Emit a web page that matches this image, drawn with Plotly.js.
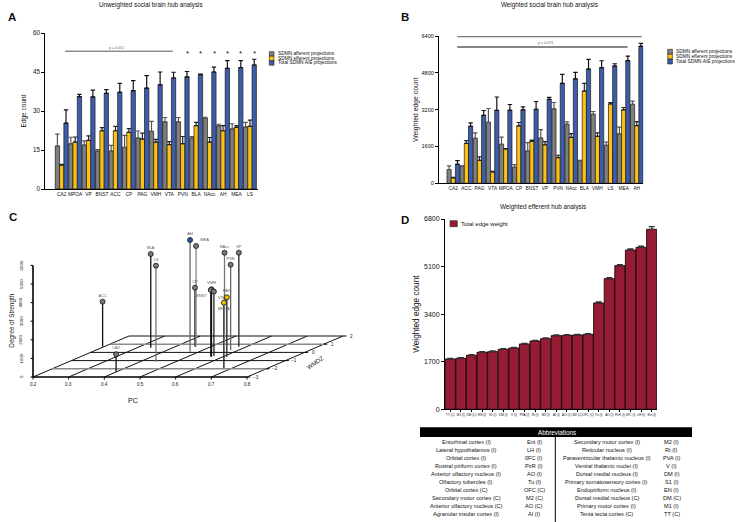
<!DOCTYPE html>
<html><head><meta charset="utf-8">
<script src="https://cdn.plot.ly/plotly-3.0.1.min.js"></script>
<style>html,body{margin:0;padding:0;background:#fff}#chart{width:740px;height:522px}</style>
</head><body><div id="chart"></div>
<script>
// ---------- DATA ----------
const seriesNames = ['SDMN afferent projections', 'SDMN efferent projections', 'Total SDMN A/E projections'];

// Panel A: unweighted
const unweightedRegions = ['CA2','MPOA','VP','BNST','ACC','CP','PAG','VMH','VTA','PVN','BLA','NAcc','AH','MEA','LS'];
const unweightedAfferent    = [16.5,17.4,16.9,14.6,14.6,16.0,19.6,22.2,25.8,25.8,19.6,27.2,24.3,23.1,23.8];
const unweightedAfferentTop = [21.1,19.9,18.5,15.2,16.8,20.6,22.3,26.0,27.5,27.5,20.2,27.6,24.9,25.1,25.6];
const unweightedEfferent    = [9.2,18.0,18.7,22.4,22.4,21.8,19.2,18.0,17.1,17.4,24.4,18.0,22.4,23.7,24.1];
const unweightedEfferentTop = [9.5,20.0,20.4,23.6,24.1,23.2,21.5,19.1,18.2,20.2,25.6,19.8,24.4,24.4,26.5];
const unweightedTotal       = [25.3,35.5,35.4,36.8,37.2,37.8,38.8,40.1,42.7,43.1,44.0,45.0,46.4,46.7,47.7];
const unweightedTotalTop    = [30.4,36.4,38.0,38.2,40.6,41.7,43.6,45.0,44.9,45.2,44.2,46.9,49.4,49.4,49.9];

// Panel B: weighted
const weightedRegions = ['CA2','ACC','PAG','VTA','MPOA','CP','BNST','VP','PVN','NAcc','BLA','VMH','LS','MEA','AH'];
const weightedAfferent    = [600,750,1955,2650,1696,695,1398,1962,3232,2565,985,3000,1652,2145,3428];
const weightedAfferentTop = [755,760,2191,3250,2002,812,1770,2336,3511,2670,1000,3120,1785,2438,3569];
const weightedEfferent    = [240,1732,1000,500,1493,2493,1819,1674,1116,1993,4008,2043,3450,3189,2507];
const weightedEfferentTop = [262,1857,1146,515,1510,2641,1872,1814,1219,2162,4339,2191,3511,3294,2684];
const weightedTotal       = [826,2478,2950,3167,3175,3189,3218,3645,4341,4537,4957,5022,5095,5334,5950];
const weightedTotalTop    = [987,2626,3163,3750,3424,3323,3555,3729,4730,4817,5383,5325,5195,5528,6080];

// Panel C: hub space
const hubRegions  = ['ACC','CA2','BLA','LS','AH','MEA','CP','VMH','BNST','VTA','NAcc','VP','PVN','PAG','MPOA'];
const hubPC       = [0.196,0.398,0.338,0.444,0.474,0.458,0.455,0.567,0.565,0.570,0.527,0.578,0.577,0.610,0.676];
const hubWMDZ     = [0.70,-2.35,0.57,-1.13,0.09,0.70,0.70,-0.52,-0.52,-0.45,0.90,0.70,0.29,-0.52,-1.90];
const hubStrength = [2420,935,5037,5161,6005,5414,3172,3624,3580,3470,4962,5054,4586,3194,3511];
const pcTicks   = [0.2,0.3,0.4,0.5,0.6,0.7,0.8];
const wmdzTicks = [-3,-2,-1,0,1,2];
const strengthTicks = [0,1000,2000,3000,4000,5000,6000];

// Panel D: weighted efferent hubs
const efferentLabels = ['TT (C)','M1 (I)','DM (C)','EN (I)','S1 (I)','DM (I)','V (I)','PVA (I)','Rt (I)','M2 (I)','AI (I)','AO (C)','M2 (C)','OFC (C)','Tu (I)','AO (I)','PirR (I)','0FC (I)','LH (I)','Ent (I)'];
const efferentWeights = [1798,1822,1929,2036,2060,2144,2191,2334,2441,2525,2632,2644,2656,2680,3799,4668,5133,5692,5788,6431];
const efferentErr     = [25,25,25,25,25,25,25,25,25,25,25,25,25,25,40,40,40,40,40,95];

// Abbreviations table
const abbrLeftNames  = ['Entorhinal cortex (I)','Lateral hypothalamus (I)','Orbital cortex (I)','Rostral piriform cortex (I)','Anterior olfactory nucleus (I)','Olfactory tubercles (I)','Orbital cortex (C)','Secondary motor cortex (C)','Anterior olfactory nucleus (C)','Agranular insular cortex (I)'];
const abbrLeftCodes  = ['Ent (I)','LH (I)','0FC (I)','PirR (I)','AO (I)','Tu (I)','OFC (C)','M2 (C)','AO (C)','AI (I)'];
const abbrRightNames = ['Secondary motor cortex (I)','Reticular nucleus (I)','Paraventricular thalamic nucleus (I)','Ventral thalamic nuclei (I)','Dorsal medial nucleus (I)','Primary somatosensory cortex (I)','Endopiriform nucleus (I)','Dorsal medial nucleus (C)','Primary motor cortex (I)','Tenia tecta cortex (C)'];
const abbrRightCodes = ['M2 (I)','Rt (I)','PVA (I)','V (I)','DM (I)','S1 (I)','EN (I)','DM (C)','M1 (I)','TT (C)'];

// ---------- STYLE ----------
const FONT = 'Liberation Sans, Arial, sans-serif';
const seriesColors = ['#7f7f7f','#fcc114','#3d5ca9'];
const errColors = ['#555','#222','#111'];
const stemShade = {ACC:'#111',CA2:'#111',BLA:'#111',LS:'#777',AH:'#666',MEA:'#888',CP:'#111',VMH:'#111',BNST:'#111',VTA:'#222',NAcc:'#777',VP:'#222',PVN:'#666',PAG:'#222',MPOA:'#111'};
const pointFill = {AH:'#3355a8',PAG:'#f5c000',MPOA:'#f5c000'};
const labelPos = {BNST:'bottom left',VTA:'bottom right',MPOA:'bottom center',MEA:'top right'};

const W = 740, H = 522;
const px = x => x / W;
const py = y => 1 - y / H;

const traces = [];
const shapes = [];
const annotations = [];

function ann(x, y, text, size, extra) {
  annotations.push(Object.assign({xref:'paper', yref:'paper', x:px(x), y:py(y), text:text, showarrow:false,
    font:{family:FONT, size:size, color:'#111'}, xanchor:'center', yanchor:'middle'}, extra || {}));
}

// ---------- Panel A ----------
const aVals = [unweightedAfferent, unweightedEfferent, unweightedTotal];
const aTops = [unweightedAfferentTop, unweightedEfferentTop, unweightedTotalTop];
aVals.forEach((vals, k) => {
  traces.push({type:'bar', x:unweightedRegions, y:vals, name:seriesNames[k], xaxis:'x', yaxis:'y', showlegend:false,
    marker:{color:seriesColors[k], line:{color:'#1a1a1a', width:0.7}},
    error_y:{type:'data', symmetric:false, array:aTops[k].map((t,i)=>Math.max(0,t-vals[i])), arrayminus:vals.map(()=>0),
      color:errColors[k], thickness:1.2, width:2.2}});
});
// ---------- Panel B ----------
const bVals = [weightedAfferent, weightedEfferent, weightedTotal];
const bTops = [weightedAfferentTop, weightedEfferentTop, weightedTotalTop];
bVals.forEach((vals, k) => {
  traces.push({type:'bar', x:weightedRegions, y:vals, name:seriesNames[k], xaxis:'x2', yaxis:'y2', showlegend:false,
    marker:{color:seriesColors[k], line:{color:'#1a1a1a', width:0.7}},
    error_y:{type:'data', symmetric:false, array:bTops[k].map((t,i)=>Math.max(0,t-vals[i])), arrayminus:vals.map(()=>0),
      color:errColors[k], thickness:1.2, width:2.2}});
});
// ---------- Panel D ----------
traces.push({type:'bar', x:efferentLabels, y:efferentWeights, name:'Total edge weight', xaxis:'x3', yaxis:'y3', showlegend:false,
  marker:{color:'#951c34', line:{color:'#1a0508', width:0.9}},
  error_y:{type:'data', symmetric:false, array:efferentErr, arrayminus:efferentErr.map(()=>0), color:'#333', thickness:1.2, width:3}});

// ---------- Panel C (oblique projection of 3D data) ----------
function proj(pc, w, s) {
  const u = (pc - 0.2) / 0.6, v = (w + 3) / 5;
  return [33 + u * 214 + v * 96, 377 - v * 41 - s * 0.0186];
}
function addLines(segs, color, width) {
  const xs = [], ys = [];
  segs.forEach(s => { xs.push(s[0][0], s[1][0], null); ys.push(s[0][1], s[1][1], null); });
  traces.push({type:'scatter', mode:'lines', x:xs, y:ys, xaxis:'x4', yaxis:'y4', showlegend:false, hoverinfo:'skip',
    line:{color:color, width:width}, cliponaxis:false});
}
const wMin = wmdzTicks[0], wMax = wmdzTicks[wmdzTicks.length-1];
const pMin = pcTicks[0], pMax = pcTicks[pcTicks.length-1];
addLines(pcTicks.map(p => [proj(p, wMin, 0), proj(p, wMax, 0)]), '#111', 1);
addLines(wmdzTicks.filter(w => w === 2 || w === 0 || w === -1).map(w => [proj(pMin, w, 0), proj(pMax, w, 0)]), '#111', 1);
addLines(wmdzTicks.filter(w => w === 1 || w === -2).map(w => [proj(pMin, w, 0), proj(pMax, w, 0)]), '#8a8a8a', 1.6);
addLines([[proj(pMin, wMin, 0), proj(pMax, wMin, 0)]], '#000', 1.6);
addLines(pcTicks.map(p => { const a = proj(p, wMin, 0); return [a, [a[0], a[1] + 2.5]]; }), '#000', 1);
addLines(wmdzTicks.map(w => { const a = proj(pMax, w, 0); return [a, [a[0] + 3.5, a[1]]]; }), '#000', 1);
const zb = proj(pMin, wMin, 0), zt = proj(pMin, wMin, strengthTicks[strengthTicks.length-1]);
addLines([[zb, zt]], '#000', 1.6);
addLines(strengthTicks.map(s => { const a = proj(pMin, wMin, s); return [a, [a[0] - 2.5, a[1]]]; }), '#000', 1);
const shades = [...new Set(hubRegions.map(r => stemShade[r]))];
shades.forEach(c => {
  const segs = [];
  hubRegions.forEach((r, i) => { if (stemShade[r] === c) segs.push([proj(hubPC[i], hubWMDZ[i], 0), proj(hubPC[i], hubWMDZ[i], hubStrength[i])]); });
  addLines(segs, c, 1.3);
});
const pts = hubRegions.map((r, i) => proj(hubPC[i], hubWMDZ[i], hubStrength[i]));
traces.push({type:'scatter', mode:'markers+text', x:pts.map(p=>p[0]), y:pts.map(p=>p[1]), text:hubRegions,
  textposition:hubRegions.map(r => labelPos[r] || 'top center'), textfont:{family:FONT, size:4, color:'#555'},
  xaxis:'x4', yaxis:'y4', showlegend:false, cliponaxis:false,
  marker:{size:5, color:hubRegions.map(r => pointFill[r] || '#7a7a7a'), line:{color:'#111', width:0.8}}});
pcTicks.forEach(p => { const a = proj(p, wMin, 0); ann(a[0], a[1] + 7.5, p.toFixed(1), 4.6); });
wmdzTicks.forEach(w => { const a = proj(pMax, w, 0); ann(a[0] + 8.5, a[1], String(w).replace('-', '\u2212'), 4.6); });
strengthTicks.forEach(s => { const a = proj(pMin, wMin, s); ann(a[0] - 12, a[1], String(s), 4.4, {textangle:-90}); });
ann(11.7, 321, 'Degree of Strength', 6.4, {textangle:-90});
ann(133, 400, 'PC', 7);
ann(315, 363, 'WMDZ', 6, {textangle:-35});

// ---------- annotations for A ----------
shapes.push({type:'line', xref:'x', yref:'y', x0:0.25, x1:8.27, y0:53, y1:53, line:{color:'#555', width:1}});
annotations.push({xref:'x', yref:'y', x:4.04, y:53, yshift:3, text:'p = 0.051', showarrow:false, font:{family:FONT, size:3.6, color:'#666'}});
for (let i = 9; i < unweightedRegions.length; i++) {
  annotations.push({xref:'x', yref:'y', x:i + 0.33, y:52.2, text:'*', showarrow:false, font:{family:FONT, size:8, color:'#111'}});
}
// ---------- annotations for B ----------
shapes.push({type:'line', xref:'x2', yref:'y2', x0:0.3, x1:14.38, y0:6370, y1:6370, line:{color:'#777', width:1.2}});
shapes.push({type:'line', xref:'x2', yref:'y2', x0:0.3, x1:13.3, y0:5921, y1:5921, line:{color:'#111', width:1.2}});
annotations.push({xref:'x2', yref:'y2', x:7.0, y:6090, text:'p = 0.073', showarrow:false, font:{family:FONT, size:3.6, color:'#666'}});
annotations.push({xref:'x2', yref:'y2', x:7.5, y:6480, text:'*', showarrow:false, font:{family:FONT, size:8, color:'#111'}});

// ---------- manual legends ----------
function legend(x, yTop, rowH, names, colors, size, swW) {
  names.forEach((n, k) => {
    const y0 = yTop + k * rowH;
    shapes.push({type:'rect', xref:'paper', yref:'paper', x0:px(x), x1:px(x + swW), y0:py(y0 + rowH), y1:py(y0),
      fillcolor:colors[k], line:{color:'#222', width:0.6}});
    ann(x + swW + 1.5, y0 + rowH / 2, n, size, {xanchor:'left'});
  });
}
legend(269.3, 51.7, 4.5, seriesNames, seriesColors, 4.8, 4.7);
legend(667.7, 49.3, 4.9, seriesNames, seriesColors, 4.8, 4.7);
legend(450, 220.7, 6, ['Total edge weight'], ['#951c34'], 6, 7.3);

// ---------- titles and letters ----------
ann(150.5, 5, 'Unweighted social brain hub analysis', 6.3);
ann(549, 5, 'Weighted social brain hub analysis', 6.3);
ann(543, 207.3, 'Weighted efferent hub analysis', 6.3);
[['A',12.3,17.3],['B',405,16.7],['C',13.3,217.3],['D',405,220]].forEach(l =>
  ann(l[1], l[2], '<b>' + l[0] + '</b>', 11.5));

// ---------- abbreviation table ----------
shapes.push({type:'rect', xref:'paper', yref:'paper', x0:px(420), x1:px(692), y0:py(437), y1:py(427.3), fillcolor:'#000', line:{width:0}});
shapes.push({type:'line', xref:'paper', yref:'paper', x0:px(555.3), x1:px(555.3), y0:py(437), y1:py(522), line:{color:'#000', width:1}});
ann(557, 432, 'Abbreviations', 6.3, {font:{family:FONT, size:6.3, color:'#fff'}});
abbrLeftNames.forEach((n, i) => {
  const y = 441.8 + i * 8.07;
  ann(466.5, y, n, 5.6);
  ann(534, y, abbrLeftCodes[i], 5.6);
  ann(606.7, y, abbrRightNames[i], 5.6);
  ann(671.5, y, abbrRightCodes[i], 5.6);
});

// ---------- layout ----------
const tf = s => ({family:FONT, size:s, color:'#111'});
const baseAx = {showgrid:false, zeroline:false, automargin:false, showline:true, linecolor:'#000', linewidth:1, tickcolor:'#000'};
const layout = {
  width:W, height:H, margin:{l:0, r:0, t:0, b:0}, paper_bgcolor:'#fff', plot_bgcolor:'rgba(0,0,0,0)',
  font:{family:FONT, color:'#111'}, barmode:'group', bargap:0.04, bargroupgap:0, showlegend:false,
  xaxis:Object.assign({}, baseAx, {anchor:'y', domain:[px(45.3), px(258)], range:[-1.22, 14.6], type:'category', tickangle:0, tickfont:tf(4.9), ticks:''}),
  yaxis:Object.assign({}, baseAx, {anchor:'x', domain:[py(189), py(33)], range:[0, 60], tickvals:[0,15,30,45,60], tickfont:tf(6.3), ticks:'outside', ticklen:3,
    title:{text:'Edge count', font:tf(6.5), standoff:5}}),
  xaxis2:Object.assign({}, baseAx, {anchor:'y2', domain:[px(439), px(643.3)], range:[-1.09, 14.5], type:'category', tickangle:0, tickfont:tf(4.8), ticks:''}),
  yaxis2:Object.assign({}, baseAx, {anchor:'x2', domain:[py(183.3), py(36)], range:[0, 6400], tickvals:[0,1600,3200,4800,6400], tickfont:tf(5.6), ticks:'outside', ticklen:3,
    title:{text:'Weighted edge count', font:tf(6.8), standoff:2}}),
  xaxis3:Object.assign({}, baseAx, {anchor:'y3', domain:[px(445), px(657)], range:[-0.5, 19.5], type:'category', tickangle:0, tickfont:tf(3.1), ticks:'outside', ticklen:2}),
  yaxis3:Object.assign({}, baseAx, {anchor:'x3', domain:[py(409.3), py(219)], range:[0, 6800], tickvals:[0,1700,3400,5100,6800], tickfont:tf(7), ticks:'outside', ticklen:3,
    title:{text:'Weighted edge count', font:tf(8.2), standoff:3}}),
  xaxis4:{anchor:'y4', domain:[0, 0.5], range:[0, 370], visible:false, showgrid:false, zeroline:false, automargin:false},
  yaxis4:{anchor:'x4', domain:[py(420), py(200)], range:[420, 200], visible:false, showgrid:false, zeroline:false, automargin:false},
  shapes:shapes, annotations:annotations
};
Plotly.newPlot('chart', traces, layout, {staticPlot:true, displayModeBar:false});
</script>
</body></html>
